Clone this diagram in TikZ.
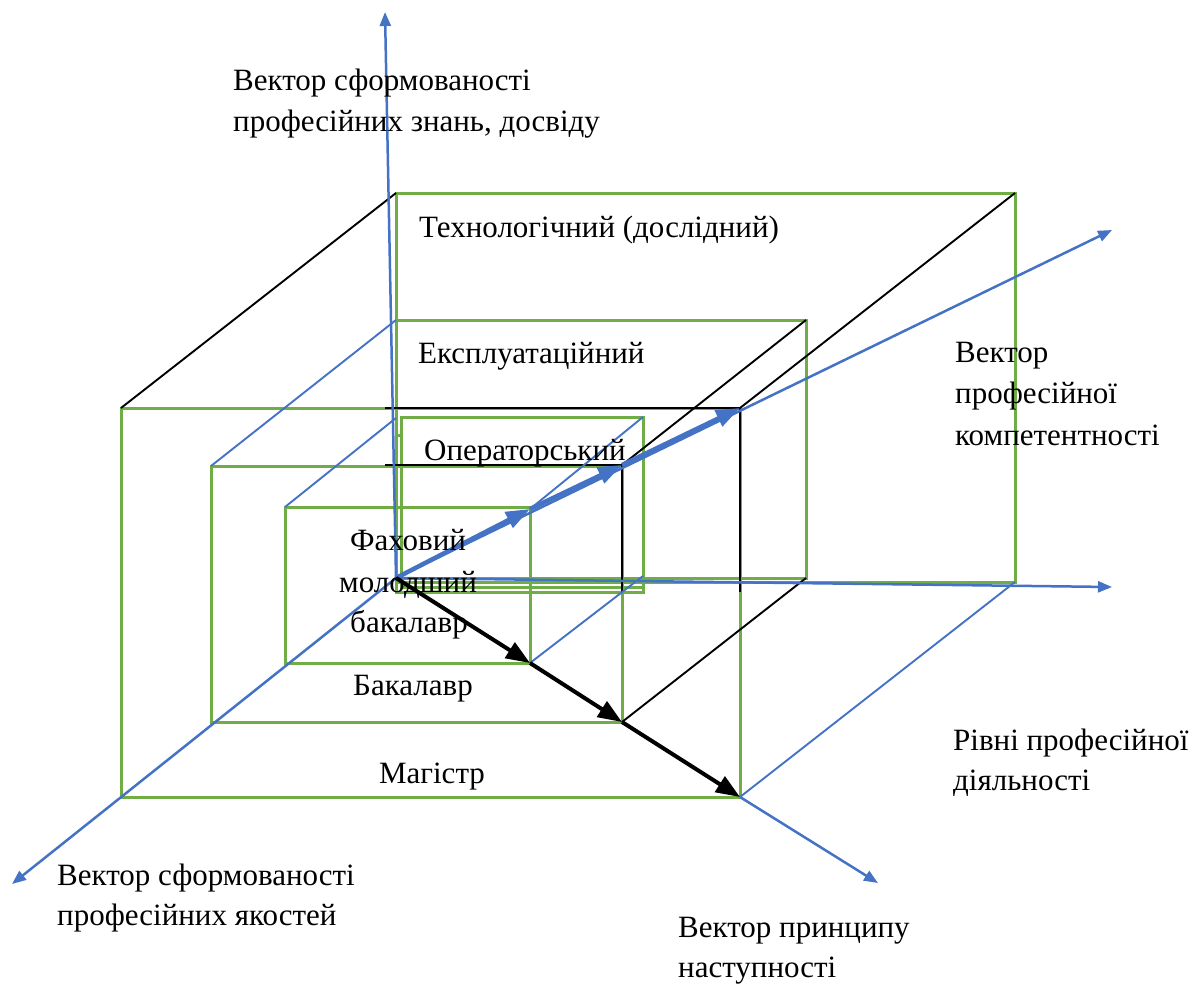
\documentclass[tikz,border=0pt]{standalone}
\usepackage{fontspec}
\setmainfont{Liberation Serif}
\usetikzlibrary{arrows.meta}
\definecolor{grn}{HTML}{70AD47}
\definecolor{blu}{HTML}{4472C4}
\tikzset{
  levelbox/.style={draw=grn, line width=3pt},
  edgeblk/.style={draw=black, line width=1.9pt},
  edgeblu/.style={draw=blu, line width=1.9pt},
  axisarrow/.style={draw=blu, line width=2.5pt, -{Triangle[length=14pt,width=11pt]}},
  thickblu/.style={draw=blu, line width=4.5pt, -{Triangle[length=24pt,width=17pt]}},
  thickblk/.style={draw=black, line width=4pt, -{Triangle[length=24pt,width=18pt]}},
  lbl/.style={font=\fontsize{31}{41}\selectfont, inner sep=0pt, anchor=base west},
  lblc/.style={font=\fontsize{31}{41}\selectfont, inner sep=0pt, anchor=base},
}
\begin{document}
\begin{tikzpicture}[x=1pt,y=-1pt]
\useasboundingbox (0,0) rectangle (1198,983);
% key points
\coordinate (O) at (396,578);
\coordinate (Vtip) at (385,12);
\coordinate (DLtip) at (12,884);
\coordinate (Htip) at (1112,587);
\coordinate (URtip) at (1112,230);
\coordinate (DRtip) at (878,883);
% front faces
\coordinate (M1) at (121,408); \coordinate (M2) at (740,797);
\coordinate (B1) at (211,466); \coordinate (B2) at (622,722);
\coordinate (F1) at (285,507); \coordinate (F2) at (530,663);
% back faces
\coordinate (T1) at (396,193); \coordinate (T2) at (1015,582);
\coordinate (E1) at (396,320); \coordinate (E2) at (806,578);
\coordinate (P1) at (401,417); \coordinate (P2) at (643,587);
\coordinate (Qa) at (401,435); \coordinate (Qb) at (396,435);
\coordinate (Qc) at (396,592); \coordinate (Qd) at (643,592);
% other corners
\coordinate (Mtr) at (740,408); \coordinate (Btr) at (622,465);
\coordinate (Ftr) at (530,509);
\coordinate (Ttr) at (1015,193); \coordinate (Etr) at (806,320);
\coordinate (Ptr) at (643,417); \coordinate (Pbr) at (643,576);
\coordinate (Mh) at (385,408); \coordinate (Bh) at (385,465);
\coordinate (Mv) at (740,592); \coordinate (Bv) at (622,592);
\coordinate (Fl) at (396,418);

% green level boxes
\draw[levelbox] (T1) rectangle (T2);
\draw[levelbox] (E1) rectangle (E2);
\draw[levelbox] (Qa) -- (Qb) -- (Qc) -- (Qd) -- (P2);
\draw[levelbox] (P1) rectangle (P2);
\draw[levelbox] (M1) rectangle (M2);
\draw[levelbox] (B1) rectangle (B2);
\draw[levelbox] (F1) rectangle (F2);

% black edges
\draw[edgeblk] (Mh) -- (Mtr) -- (Mv);
\draw[edgeblk] (Bh) -- (Btr) -- (Bv);
\draw[edgeblk] (M1) -- (T1);
\draw[edgeblk] (Mtr) -- (Ttr);
\draw[edgeblk] (Btr) -- (Etr);
\draw[edgeblk] (B2) -- (E2);

% blue edges
\draw[edgeblu] (B1) -- (E1);
\draw[edgeblu] (F1) -- (Fl);
\draw[edgeblu] (Ftr) -- (Ptr);
\draw[edgeblu] (F2) -- (Pbr);
\draw[edgeblu] (M2) -- (T2);

% axes
\draw[axisarrow] (O) -- (Vtip);
\draw[axisarrow] (O) -- (DLtip);
\draw[axisarrow] (O) -- (Htip);
\draw[axisarrow] (O) -- (URtip);
\draw[axisarrow] (M2) -- (DRtip);

% thick vectors
\draw[thickblu] (O) -- (Ftr);
\draw[thickblu] (Ftr) -- (Btr);
\draw[thickblu] (Btr) -- (Mtr);
\draw[thickblk] (O) -- (F2);
\draw[thickblk] (F2) -- (B2);
\draw[thickblk] (B2) -- (M2);

% labels
\node[lbl] (k1) at (233,90) {Вектор сформованості};
\node[lbl] (k2) at (233,131) {професійних знань, досвіду};
\node[lbl] (tech) at (419,237) {Технологічний (дослідний)};
\node[lbl] (eksp) at (418,363) {Експлуатаційний};
\node[lbl] (oper) at (424,460) {Операторський};
\node[lblc] (f1) at (408,550) {Фаховий};
\node[lblc] (f2) at (408,592) {молодший};
\node[lblc] (f3) at (409,632) {бакалавр};
\node[lblc] (bak) at (413,695) {Бакалавр};
\node[lblc] (mag) at (432,783) {Магістр};
\node[lbl] (c1) at (955,362) {Вектор};
\node[lbl] (c2) at (955,403) {професійної};
\node[lbl] (c3) at (955,445) {компетентності};
\node[lbl] (r1) at (953,750) {Рівні професійної};
\node[lbl] (r2) at (953,790) {діяльності};
\node[lbl] (q1) at (57,885) {Вектор сформованості};
\node[lbl] (q2) at (57,925) {професійних якостей};
\node[lbl] (n1) at (678,937) {Вектор принципу};
\node[lbl] (n2) at (678,977) {наступності};
\end{tikzpicture}
\end{document}
